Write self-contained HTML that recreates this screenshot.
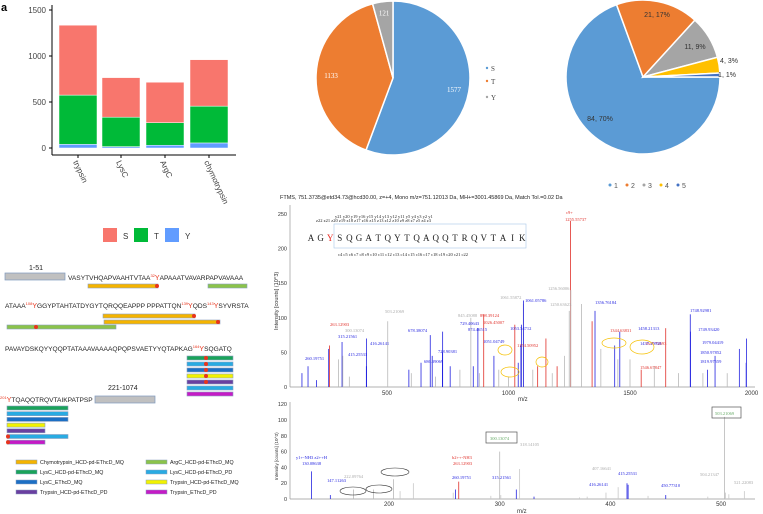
<!DOCTYPE html>
<html><head><meta charset="utf-8"><style>
body{margin:0;background:#fff;}
svg{display:block;font-family:"Liberation Sans",sans-serif;}
</style></head><body>
<svg id="fig" width="763" height="514" viewBox="0 0 763 514" xmlns="http://www.w3.org/2000/svg">
<text x="1" y="11" font-size="11" font-weight="bold">a</text>
<g id="barChart"></g>
<g id="pie1"></g>
<g id="pie2"></g>
<g id="seq"></g>
<g id="spec1"></g>
<g id="spec2"></g>
</svg>
<script>
const NS="http://www.w3.org/2000/svg";
function mk(p,t,a,txt){const e=document.createElementNS(NS,t);for(const k in a)e.setAttribute(k,a[k]);if(txt!==undefined)e.textContent=txt;p.appendChild(e);return e;}

// ---- Bar chart data ----
const enzymes=["trypsin","LysC","ArgC","chymotrypsin"];
const valY=[40,15,30,55];
const valT=[535,320,245,400];
const valS=[760,430,440,505];
const barTicks=[0,500,1000,1500];

// ---- Pie data ----
const pie1Labels=["S","T","Y"];
const pie1Values=[1577,1133,121];
const pie2Labels=["1","2","3","4","5"];
const pie2Values=[84,21,11,4,1];
const pie2Pct=[70,17,9,3,1];

// ---- Spectrum data (m/z, intensity x10^3) ----
const s1Mz=[150,175,210,260,263,300,315,318,345,416,415,503,590,600,640,678,686,700,728,729,760,800,845,855,874,880,898,940,960,1000,1026,1040,1051,1053,1061,1061.5,1100,1120,1154,1180,1200,1230,1250,1255.5,1256.5,1300,1344,1356,1380,1437,1450,1458,1500,1546,1600,1647,1700,1748,1749,1800,1819,1850,1900,1950,1979,1978];
const s1Int=[20,30,10,55,60,40,65,45,15,70,30,95,25,20,35,75,45,15,50,80,30,25,100,30,85,20,105,45,25,15,90,35,60,90,120,125,25,30,70,20,30,45,110,240,140,120,95,110,55,60,40,80,40,25,30,85,20,105,80,20,25,45,20,55,70,35];
const s1Col=["b","b","b","b","r","g","b","g","g","b","b","g","b","g","b","b","b","g","b","b","b","g","g","b","b","g","r","b","g","g","r","b","b","b","g","b","g","r","r","g","r","g","g","r","g","g","r","b","g","b","g","b","g","r","g","r","g","b","b","g","b","b","g","b","b","b"];
const s1Ticks=[500,1000,1500,2000];
const s1YTicks=[0,50,100,150,200,250];

const s2Mz=[130,147,168,186,204,210,222,258,260,263,292,300,301,315,318,331,372,379,396,407,415,416,434,450,488,504,507,503,521];
const s2Int=[35,5,12,12,25,10,20,8,12,22,4,60,5,12,38,3,2,3,8,15,20,18,4,5,3,8,6,104,10];
const s2Col=["b","b","g","g","g","x","x","x","b","r","x","g","x","b","x","b","x","x","x","x","b","b","x","b","x","x","x","g","x"];
const s2Ticks=[200,300,400,500];
const s2YTicks=[0,20,40,60,80,100,120];

const colors={b:"#2424e0",r:"#e0302a",g:"#b8b8b8",x:"#c8c8c8"};

// ===== Bar chart =====
(function(){
const g=document.getElementById('barChart');
const y0=148,ppu=46/500,xs=[59,102,146,190],w=38;
const yv=v=>y0-v*ppu;
mk(g,'line',{x1:52,y1:5,x2:52,y2:155,stroke:'#000','stroke-width':1,});
mk(g,'line',{x1:52,y1:155,x2:236,y2:155,stroke:'#000','stroke-width':1,});
barTicks.forEach(t=>{mk(g,'line',{x1:49,x2:52,y1:yv(t),y2:yv(t),stroke:'#000'});
const e=mk(g,'text',{x:46,y:yv(t)+3,'font-size':8,'text-anchor':'end',fill:'#444'},t);
});
enzymes.forEach((n,i)=>{
 const x=xs[i];let base=0;
 [[valY[i],'#619cff','y'],[valT[i],'#00ba38','t'],[valS[i],'#f8766d','s']].forEach(([v,c,k])=>{
  const r=mk(g,'rect',{x:x,y:yv(base+v),width:w,height:v*ppu,fill:c,stroke:'#fff','stroke-width':0.5});
  
  
  base+=v;});
 mk(g,'line',{x1:x+w/2,x2:x+w/2,y1:155,y2:158,stroke:'#000'});
 const t=mk(g,'text',{x:x+w/2-5,y:162,'font-size':8,fill:'#444',transform:`rotate(65 ${x+w/2-5} 162)`},n);
 
});
[['S','#f8766d',103],['T','#00ba38',134],['Y','#619cff',165]].forEach(([l,c,x])=>{
 const r=mk(g,'rect',{x:x,y:228,width:14,height:14,fill:c});
 
 const t=mk(g,'text',{x:x+20,y:239,'font-size':8,fill:'#333'},l);
 
});
})();

// ===== Pies =====
function pie(gid,cx,cy,r,vals,cols,startDeg,labels,labFn){
 const g=document.getElementById(gid);const tot=vals.reduce((a,b)=>a+b,0);let a=startDeg;
 vals.forEach((v,i)=>{
  const a2=a+v/tot*360;const rad=d=>(d-90)*Math.PI/180;
  const x1=cx+r*Math.cos(rad(a)),y1=cy+r*Math.sin(rad(a)),x2=cx+r*Math.cos(rad(a2)),y2=cy+r*Math.sin(rad(a2));
  const p=mk(g,'path',{d:`M${cx},${cy}L${x1},${y1}A${r},${r} 0 ${a2-a>180?1:0} 1 ${x2},${y2}Z`,fill:cols[i],stroke:'#fff','stroke-width':1.5});
  
  const lf=labFn(i,(a+a2)/2,v,tot);
  if(lf){const t=mk(g,'text',{x:lf[0],y:lf[1],'font-size':7,fill:lf[2],'text-anchor':'middle','font-family':lf[3]||'Liberation Sans'},lf[4]);
   }
  a=a2;});
}
pie('pie1',393,78,77,pie1Values,['#5b9bd5','#ed7d31','#a5a5a5'],0,pie1Labels,(i,m,v)=>{
 const rr=[62,62,66][i];const rad=(m-90)*Math.PI/180;
 return [393+rr*Math.cos(rad),78+rr*Math.sin(rad)+3,'#fff','Liberation Serif',v];});
[['S','#5b9bd5',68],['T','#ed7d31',81],['Y','#a5a5a5',97]].forEach(([l,c,y])=>{
 const g=document.getElementById('pie1');
 mk(g,'circle',{cx:487,cy:y,r:1.2,fill:c});
 const t=mk(g,'text',{x:491,y:y+3,'font-size':7,'font-family':'Liberation Serif',fill:'#444'},l);
 });
pie('pie2',643,77,77,pie2Values,['#5b9bd5','#ed7d31','#a5a5a5','#ffc000','#4472c4'],90,pie2Labels,(i,m,v,tot)=>{
 const txt=v+', '+pie2Pct[i]+'%';
 const pos=[[600,121,'#333'],[657,17,'#333'],[695,49,'#333'],[729,63,'#333'],[727,77,'#333']][i];
 return [pos[0],pos[1],pos[2],null,txt];});
['1','2','3','4','5'].forEach((l,i)=>{
 const g=document.getElementById('pie2');const c=['#5b9bd5','#ed7d31','#a5a5a5','#ffc000','#4472c4'][i];
 mk(g,'circle',{cx:610+i*17,cy:185,r:1.5,fill:c});
 const t=mk(g,'text',{x:614+i*17,y:188,'font-size':7,fill:'#555'},l);
 });

// ===== Sequence map =====
(function(){
const g=document.getElementById('seq');
function T(x,y,s,sz,name,col){const t=mk(g,'text',{x:x,y:y,'font-size':sz||7,fill:col||'#222'});t.innerHTML=s;return t;}
function B(x1,x2,y,c,name,dot){const r=mk(g,'rect',{x:x1,y:y-2,width:x2-x1,height:4,fill:c,stroke:'#8aa0c0','stroke-width':0.6});
 if(dot!==undefined)mk(g,'circle',{cx:dot,cy:y,r:2,fill:'#e8341c'});}
const sup=(n)=>`<tspan font-size="4" fill="#e8341c" dy="-3">${n}</tspan><tspan fill="#e8341c" font-size="7" dy="3">Y</tspan>`;
T(29,270,'1-51',7,'region-label');
mk(g,'rect',{x:5,y:273,width:60,height:7,fill:'#c0c0c0',stroke:'#7f9abf','stroke-width':0.7});
T(68,280,'VASYTVHQAPVAAHTVTAA'+sup(32)+'APAAATVAVARPAPVAVAAA',6.6,'sequence-row-1');
B(88,158,286,'#f5b400','peptide-chymotrypsin',157);B(208,247,286,'#8bc34a','peptide-argc');
T(5,308,'ATAAA'+sup(108)+'GGYPTAHTATDYGYTQRQQEAPPP PPPATTQN'+sup(139)+'QDS'+sup(143)+'SYVRSTA',6.6,'sequence-row-2');
B(103,195,316,'#f5b400','peptide-chymotrypsin',194);B(104,220,322,'#f5b400','peptide-chymotrypsin',218);B(7,116,327,'#8bc34a','peptide-argc',36);
T(5,351,'PAVAYDSKQYYQQPTATAAAVAAAAQPQPSVAETYYQTAPKAG'+sup(164)+'SQGATQ',6.6,'sequence-row-3');
const c3=['#1aa35a','#29abe2','#1c6fc4','#f2f200','#6a3fa0','#29abe2','#c51bc5'];
c3.forEach((c,i)=>B(187,233,358+i*6,c,'peptide-bar',i<5?206:undefined));
T(108,390,'221-1074',7,'region-label');
mk(g,'rect',{x:95,y:396,width:60,height:7,fill:'#c0c0c0',stroke:'#7f9abf','stroke-width':0.7});
T(0,402,sup(201)+'TQAQQTRQVTAIKPATPSP',6.6,'sequence-row-4');
[[68,'#1aa35a'],[68,'#29abe2'],[68,'#1c6fc4'],[45,'#f2f200'],[45,'#6a3fa0'],[68,'#29abe2',8],[45,'#c51bc5',8]].forEach((d,i)=>B(7,d[0],408+i*5.7,d[1],'peptide-bar',d[2]));
const leg=[['Chymotrypsin_HCD-pd-EThcD_MQ','#f5b400',16,462],['LysC_HCD-pd-EThcD_MQ','#1aa35a',16,472],['LysC_EThcD_MQ','#1c6fc4',16,482],['Trypsin_HCD-pd-EThcD_PD','#6a3fa0',16,492],
['ArgC_HCD-pd-EThcD_MQ','#8bc34a',146,462],['LysC_HCD-pd-EThcD_PD','#29abe2',146,472],['Trypsin_HCD-pd-EThcD_MQ','#f2f200',146,482],['Trypsin_EThcD_PD','#c51bc5',146,492]];
leg.forEach(([l,c,x,y])=>{mk(g,'rect',{x:x,y:y-2,width:21,height:4,fill:c,stroke:'#8aa0c0','stroke-width':0.5});T(x+24,y+2,l,5.3,'legend-entry');});
})();

// ===== Spectra =====
function spectrum(gid,mz,inten,cols,xt,yt,xf,yf,x0,x1,yTop,yBot,tickY){
 const g=document.getElementById(gid);
 mk(g,'line',{x1:x0,y1:yTop,x2:x0,y2:yBot,stroke:'#999','stroke-width':0.7,});
 mk(g,'line',{x1:x0,y1:yBot,x2:x1,y2:yBot,stroke:'#999','stroke-width':0.7,});
 yt.forEach(t=>{const t2=mk(g,'text',{x:x0-3,y:yf(t)+2,'font-size':5.5,'text-anchor':'end',fill:'#333'},t);});
 xt.forEach(t=>{const t2=mk(g,'text',{x:xf(t),y:tickY,'font-size':6,'text-anchor':'middle',fill:'#333'},t);});
 mz.forEach((m,i)=>{const l=mk(g,'line',{x1:xf(m),x2:xf(m),y1:yBot,y2:yf(inten[i]),stroke:colors[cols[i]],'stroke-width':0.8});
  });
}
spectrum('spec1',s1Mz,s1Int,s1Col,s1Ticks,s1YTicks,m=>387+(m-500)*0.243,v=>387-v*0.692,290,755,205,387,395);
spectrum('spec2',s2Mz,s2Int,s2Col,s2Ticks,s2YTicks,m=>389+(m-200)*1.107,v=>499-v*0.79,290,755,402,499,506);
(function(){
const g=document.getElementById('spec1');
function T(x,y,s,sz,c,name,anchor){const t=mk(g,'text',{x:x,y:y,'font-size':sz,fill:c,'text-anchor':anchor||'start','font-family':'Liberation Serif'},s);}
const h=mk(g,'text',{x:280,y:199,'font-size':5.5,fill:'#222'},'FTMS, 751.3735@etd34.73@hcd30.00,  z=+4, Mono m/z=751.12013 Da, MH+=3001.45869 Da, Match Tol.=0.02 Da');

const yl=mk(g,'text',{x:278,y:330,'font-size':5.5,fill:'#333',transform:'rotate(-90 278 330)'},'Intensity [counts] (10^3)');

const xl=mk(g,'text',{x:518,y:401,'font-size':6,fill:'#333'},'m/z');
const seq="AGYSQGATQYTQAQQTRQVTAIK";
for(let i=0;i<seq.length;i++){T(311+i*9.6,241,seq[i],9,i==2?'#e8241c':'#222','sequence-residue','middle');}
mk(g,'rect',{x:334,y:224,width:192,height:24,fill:'none',stroke:'#a8c8e8','stroke-width':0.6});
T(335,218,'y21 y20 y19          y16 y15 y14 y13 y12 y11                    y5  y4  y3  y2  y1',4.5,'#222','ion-labels');
T(316,222,'z22 z21 z20 z19 z18 z17 z16 z15          z13 z12          z10  z9   z8   z7                 z5   z4   z3',4.5,'#222','ion-labels');
T(338,256,'c4   c5   c6   c7   c8   c9  c10 c11 c12 c13     c14 c15  c16 c17 c18 c19 c20 c21   c22',4.5,'#222','ion-labels');
const ann=[[566,214,'c9+','#e0302a'],[565,221,'1255.55737','#e0302a'],[548,290,'1256.56006','#aaa'],[500,299,'1061.55872','#aaa'],[525,302,'1061.05786','#2424e0'],[550,306,'1250.63623','#aaa'],[385,313,'503.21069','#aaa'],[480,317,'898.39124','#e0302a'],[458,317,'845.45088','#aaa'],[595,304,'1356.76184','#2424e0'],[690,312,'1748.92981','#2424e0'],[610,332,'1344.63831','#e0302a'],[638,330,'1458.21313','#2424e0'],[510,330,'1053.54712','#2424e0'],[460,325,'729.40643','#2424e0'],[330,326,'263.12903','#e0302a'],[345,332,'300.13074','#aaa'],[338,338,'315.21561','#2424e0'],[370,345,'416.26141','#2424e0'],[408,332,'678.38074','#2424e0'],[468,331,'874.46515','#2424e0'],[483,324,'1026.45007','#e0302a'],[483,343,'1051.04749','#2424e0'],[517,347,'1154.50952','#e0302a'],[645,345,'1647.72693','#e0302a'],[640,345,'1437.19958','#2424e0'],[305,360,'260.19751','#2424e0'],[348,356,'415.25531','#2424e0'],[438,353,'728.90381','#2424e0'],[424,363,'686.39069','#2424e0'],[640,369,'1546.67847','#e0302a'],[702,344,'1979.04419','#2424e0'],[700,354,'1850.97852','#2424e0'],[700,363,'1819.97559','#2424e0'],[698,331,'1749.93420','#2424e0']];
ann.forEach(a=>T(a[0],a[1],a[2],4.5,a[3],'peak-annotation'));
[[614,343,12,5],[505,350,7,5],[510,372,9,5],[542,362,6,5],[642,347,12,7]].forEach(e=>mk(g,'ellipse',{cx:e[0],cy:e[1],rx:e[2],ry:e[3],fill:'none',stroke:'#f5c000','stroke-width':0.7}));
})();
(function(){
const g=document.getElementById('spec2');
function T(x,y,s,c,name){const t=mk(g,'text',{x:x,y:y,'font-size':4.5,fill:c,'font-family':'Liberation Serif'},s);}
const yl=mk(g,'text',{x:278,y:480,'font-size':4.5,fill:'#333',transform:'rotate(-90 278 480)'},'Intensity [counts] (10^3)');

const xl=mk(g,'text',{x:517,y:513,'font-size':6,fill:'#333'},'m/z');
[[296,459,'y1+-NH3 z2++H','#2424e0'],[302,465,'130.08638','#2424e0'],[327,482,'147.11263','#2424e0'],[453,465,'263.12903','#e0302a'],[452,459,'b2++-NH3','#e0302a'],[452,479,'260.19751','#2424e0'],[492,479,'315.21561','#2424e0'],[520,446,'318.14105','#aaa'],[589,486,'416.26141','#2424e0'],[618,475,'415.25531','#2424e0'],[592,470,'407.16641','#aaa'],[661,487,'450.77310','#2424e0'],[700,476,'504.21347','#aaa'],[734,484,'521.22083','#aaa'],[344,478,'222.09764','#aaa']].forEach(a=>T(a[0],a[1],a[2],a[3],'peak-annotation'));
mk(g,'rect',{x:486,y:432,width:31,height:11,fill:'none',stroke:'#555','stroke-width':0.7});T(490,440,'300.13074','#6a6','boxed-annotation');
mk(g,'rect',{x:712,y:407,width:29,height:11,fill:'none',stroke:'#555','stroke-width':0.7});T(715,415,'503.21069','#6a6','boxed-annotation');
[[395,472,14,4],[353,491,13,4],[379,489,13,4]].forEach(e=>mk(g,'ellipse',{cx:e[0],cy:e[1],rx:e[2],ry:e[3],fill:'none',stroke:'#333','stroke-width':0.6}));
})();
</script>
</body></html>
